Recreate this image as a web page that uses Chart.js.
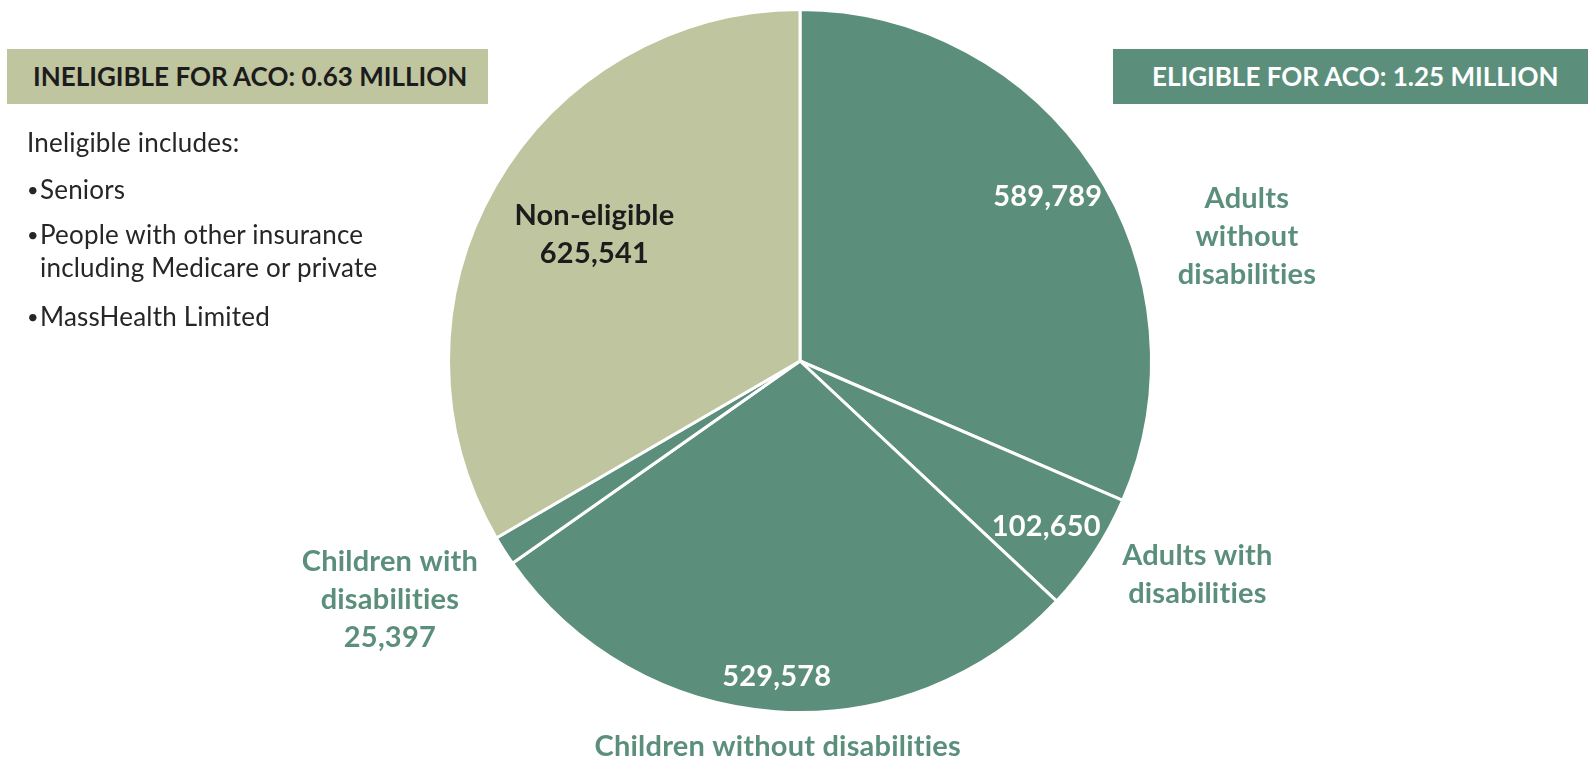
<!DOCTYPE html>
<html>
<head>
<meta charset="utf-8">
<script src="https://cdn.jsdelivr.net/npm/chart.js@4"></script>
<style>
  html, body { margin: 0; padding: 0; background: #fff; }
  #wrap { position: relative; width: 1588px; height: 760px; overflow: hidden; font-family: Lato, "Noto Sans", sans-serif; font-variant-ligatures: none; }
  #chart1 { position: absolute; left: 0; top: 0; }
  .box { position: absolute; top: 49px; height: 55px; line-height: 55px; font-weight: bold; font-size: 26px; box-sizing: border-box; white-space: nowrap; }
  #inel { left: 7px; width: 481px; background: #bfc59e; color: #1c1c1c; padding-left: 26px; }
  #elig { left: 1113px; width: 475px; background: #5b8f7b; color: #fff; padding-left: 39px; }
  #notes { position: absolute; left: 27px; top: 124px; color: #262626; font-size: 26px; letter-spacing: 0.2px; }
  #notes div { height: 47px; line-height: 36px; }
  #notes .b { padding-left: 13px; position: relative; }
  #notes .b::before { content: "\2022"; position: absolute; left: 0; font-size: 20px; }
  #notes .b2 { height: 80px; line-height: 33px; }
</style>
</head>
<body>
<div id="wrap">
  <canvas id="chart1" width="1588" height="760"></canvas>
  <div class="box" id="inel">INELIGIBLE FOR ACO: 0.63 MILLION</div>
  <div class="box" id="elig">ELIGIBLE FOR ACO: 1.25 MILLION</div>
  <div id="notes">
    <div>Ineligible includes:</div>
    <div class="b">Seniors</div>
    <div class="b b2">People with other insurance<br>including Medicare or private</div>
    <div class="b">MassHealth Limited</div>
  </div>
</div>
<script>
const categories = ['Adults without disabilities', 'Adults with disabilities', 'Children without disabilities', 'Children with disabilities', 'Non-eligible'];
const members = [589789, 102650, 529578, 25397, 625541];
const sliceColors = ['#5b8f7b', '#5b8f7b', '#5b8f7b', '#5b8f7b', '#bfc59e'];

// annotation text; placed around the pie in polar terms (angle from top, fraction of radius)
const labels = [
    { lines: ['589,789'], angle: 56.5, r: 0.845, color: '#ffffff' },
    { lines: ['Adults', 'without', 'disabilities'], angle: 74.4, r: 1.32, color: '#5b8f7b' },
    { lines: ['102,650'], angle: 124, r: 0.845, color: '#ffffff' },
    { lines: ['Adults with', 'disabilities'], angle: 118.3, r: 1.284, color: '#5b8f7b' },
    { lines: ['529,578'], angle: 184.2, r: 0.9, color: '#ffffff' },
    { lines: ['Children without disabilities'], angle: 183.3, r: 1.10, color: '#5b8f7b' },
    { lines: ['Children with', 'disabilities', '25,397'], angle: 239.8, r: 1.35, color: '#5b8f7b' },
    { lines: ['Non-eligible', '625,541'], angle: 301.5, r: 0.686, color: '#1c1c1c' }
];

const sliceLabels = {
    id: 'sliceLabels',
    afterDatasetsDraw(chart) {
        const arc = chart.getDatasetMeta(0).data[0];
        if (!arc) return;
        const ctx = chart.ctx;
        const cx = arc.x, cy = arc.y, R = arc.outerRadius;
        ctx.save();
        ctx.font = 'bold 29px Lato, "Noto Sans", sans-serif';
        ctx.letterSpacing = '0.2px';
        ctx.textAlign = 'center';
        ctx.textBaseline = 'middle';
        labels.forEach(l => {
            const a = l.angle * Math.PI / 180;
            const x = cx + Math.sin(a) * R * l.r;
            const y = cy - Math.cos(a) * R * l.r;
            const lh = 38;
            ctx.fillStyle = l.color;
            l.lines.forEach((t, i) => {
                ctx.fillText(t, x, y + (i - (l.lines.length - 1) / 2) * lh);
            });
        });
        ctx.restore();
    }
};

const config = {
    type: 'pie',
    data: {
        labels: categories,
        datasets: [{
            data: members,
            backgroundColor: sliceColors,
            borderColor: '#ffffff',
            borderWidth: 3
        }]
    },
    options: {
        responsive: false,
        animation: false,
        layout: {
            padding: { left: 12, right: 0, top: 8, bottom: 46 }
        },
        plugins: {
            legend: { display: false },
            tooltip: { enabled: false }
        }
    },
    plugins: [sliceLabels]
};

const ctx1 = document.getElementById('chart1').getContext('2d');
const chart1 = new Chart(ctx1, config);
</script>
</body>
</html>
